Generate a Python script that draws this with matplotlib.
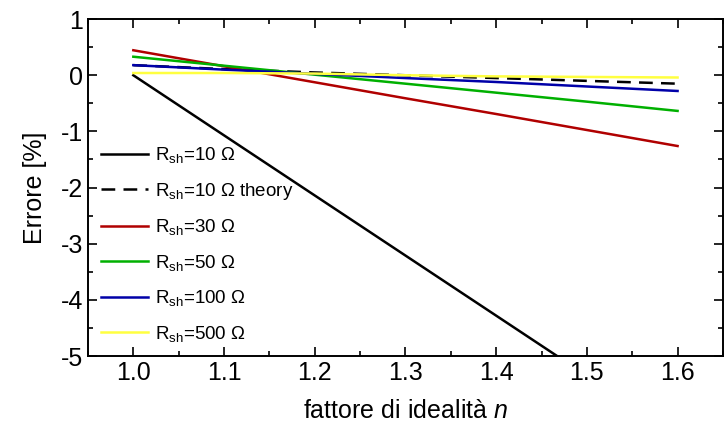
import matplotlib
matplotlib.use('Agg')
import matplotlib.pyplot as plt
from matplotlib.ticker import MultipleLocator
import numpy as np

plt.rcParams['font.family'] = ['Liberation Sans', 'DejaVu Sans']
plt.rcParams['mathtext.fontset'] = 'custom'
plt.rcParams['mathtext.rm'] = 'Liberation Sans'
plt.rcParams['mathtext.it'] = 'Liberation Sans:italic'
plt.rcParams['axes.unicode_minus'] = False

# fattore di idealita n
n = [1.0, 1.1, 1.2, 1.3, 1.4, 1.5, 1.6]

# errore [%] per ogni Rsh
err_10 = [0.0, -1.07, -2.14, -3.21, -4.28, -5.35, -6.42]
err_10_theory = [0.18, 0.11, 0.05, 0.0, -0.05, -0.10, -0.15]
err_30 = [0.445, 0.16, -0.125, -0.41, -0.69, -0.975, -1.26]
err_50 = [0.33, 0.17, 0.01, -0.15, -0.31, -0.47, -0.635]
err_100 = [0.18, 0.10, 0.025, -0.05, -0.12, -0.20, -0.28]
err_500 = [0.04, 0.04, 0.03, 0.0, -0.02, -0.03, -0.04]

fig = plt.figure(figsize=(7.24, 4.29), dpi=100)
ax = fig.add_axes([0.1215, 0.170, 0.877, 0.7855])

lw = 1.8
ax.plot(n, err_10, color='black', lw=lw, label=r'R$_{\mathrm{sh}}$=10 Ω')
ax.plot(n, err_10_theory, color='black', lw=lw, ls=(0, (5.5, 3.3)), label=r'R$_{\mathrm{sh}}$=10 Ω theory')
ax.plot(n, err_30, color='#b00000', lw=lw, label=r'R$_{\mathrm{sh}}$=30 Ω')
ax.plot(n, err_50, color='#00b000', lw=lw, label=r'R$_{\mathrm{sh}}$=50 Ω')
ax.plot(n, err_100, color='#0000a8', lw=lw, label=r'R$_{\mathrm{sh}}$=100 Ω')
ax.plot(n, err_500, color='#ffff40', lw=lw, label=r'R$_{\mathrm{sh}}$=500 Ω')

ax.set_xlim(0.95, 1.65)
ax.set_ylim(-5, 1)
ax.xaxis.set_major_locator(MultipleLocator(0.1))
ax.xaxis.set_minor_locator(MultipleLocator(0.05))
ax.yaxis.set_major_locator(MultipleLocator(1))
ax.yaxis.set_minor_locator(MultipleLocator(0.5))
ax.tick_params(which='both', direction='in', top=True, right=True, width=1.2, labelsize=18)
ax.tick_params(which='major', length=6.5)
ax.tick_params(which='minor', length=3.5)
for s in ax.spines.values():
    s.set_linewidth(1.4)

ax.set_xlabel(r'fattore di idealità $\mathit{n}$', fontsize=18, labelpad=10)
ax.set_ylabel('Errore [%]', fontsize=18, labelpad=10)

ax.legend(loc='upper left', bbox_to_anchor=(0.0, 0.665), frameon=False, fontsize=13.5,
          handlelength=2.5, handletextpad=0.4, labelspacing=0.83, borderaxespad=0.3)

fig.savefig('out.png', dpi=100)
